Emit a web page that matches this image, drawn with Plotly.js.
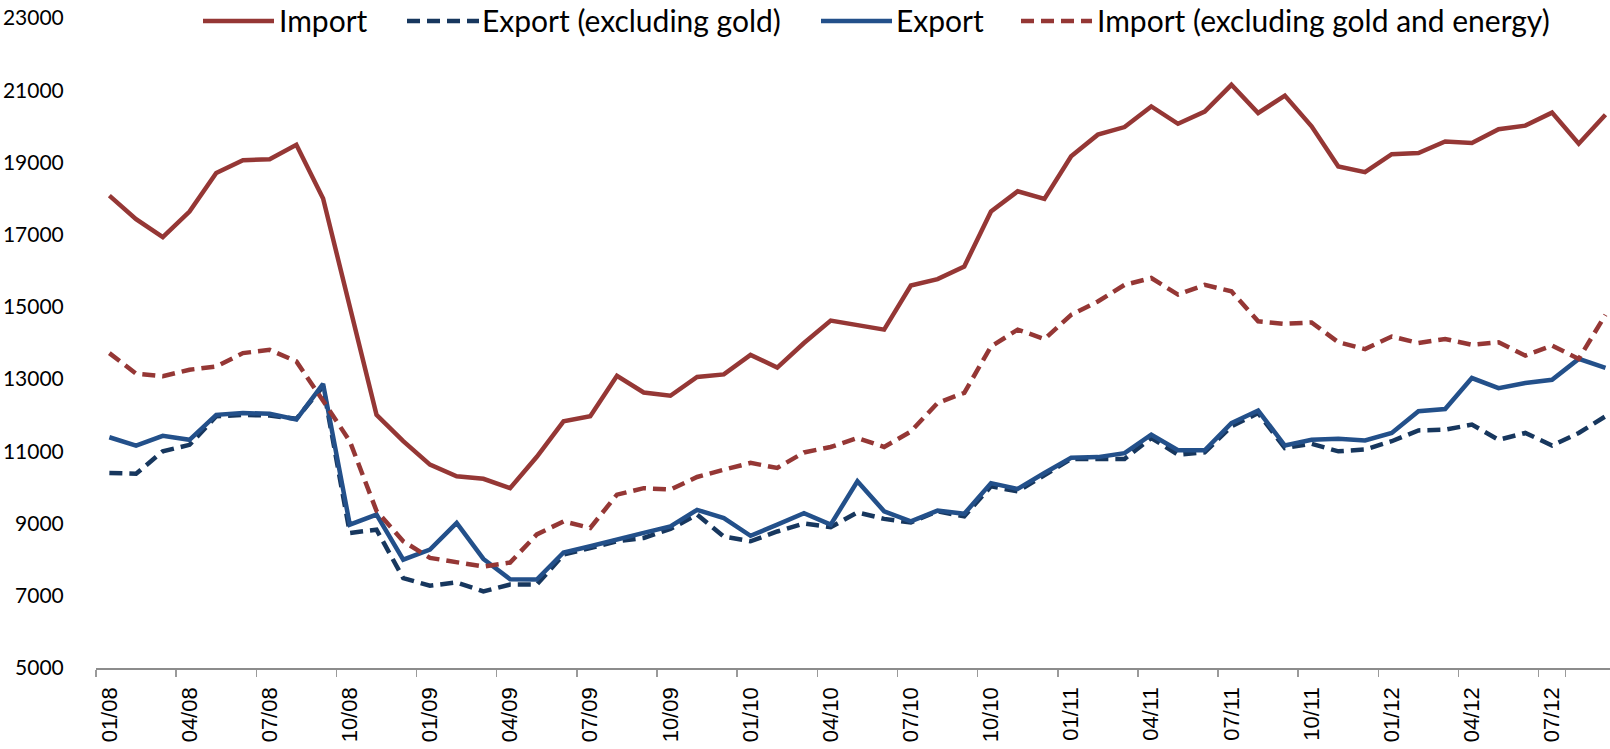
<!DOCTYPE html>
<html>
<head>
<meta charset="utf-8">
<script src="https://cdn.plot.ly/plotly-3.0.1.min.js"></script>
<style>
  html, body { margin: 0; padding: 0; background: #ffffff; }
  #chart { width: 1610px; height: 749px; }
</style>
</head>
<body>
<div id="chart"></div>
<script>
// Months (category labels)
const months = [
  "01/08","02/08","03/08","04/08","05/08","06/08","07/08","08/08","09/08","10/08","11/08","12/08",
  "01/09","02/09","03/09","04/09","05/09","06/09","07/09","08/09","09/09","10/09","11/09","12/09",
  "01/10","02/10","03/10","04/10","05/10","06/10","07/10","08/10","09/10","10/10","11/10","12/10",
  "01/11","02/11","03/11","04/11","05/11","06/11","07/11","08/11","09/11","10/11","11/11","12/11",
  "01/12","02/12","03/12","04/12","05/12","06/12","07/12","08/12","09/12"
];

// Series values
const importTotal = [18080, 17430, 16930, 17640, 18710, 19060, 19090, 19490, 18000, 15000, 12010, 11280,
  10630, 10310, 10240, 9980, 10850, 11830, 11970, 13090, 12630, 12540, 13060, 13130,
  13670, 13320, 14000, 14620, 14510, 14370, 15590, 15770, 16120, 17640, 18200, 17990,
  19170, 19770, 19980, 20550, 20070, 20410, 21150, 20370, 20850, 20000, 18890, 18730,
  19230, 19260, 19580, 19540, 19920, 20020, 20380, 19520, 20320];

const exportExGold = [10400, 10380, 11000, 11180, 11970, 12010, 11990, 11900, 12800, 8740, 8830, 7490,
  7280, 7370, 7120, 7310, 7310, 8140, 8320, 8510, 8600, 8850, 9250, 8640,
  8510, 8780, 9000, 8900, 9310, 9130, 9030, 9340, 9200, 10030, 9890, 10350,
  10790, 10790, 10790, 11370, 10910, 10970, 11690, 12060, 11090, 11210, 11000, 11050,
  11280, 11580, 11600, 11740, 11320, 11510, 11160, 11510, 11970];

const exportTotal = [11390, 11160, 11430, 11320, 12010, 12060, 12040, 11880, 12870, 8970, 9250, 8000,
  8280, 9020, 8020, 7460, 7450, 8200, 8370, 8570, 8740, 8920, 9380, 9150,
  8660, 8970, 9290, 8970, 10170, 9340, 9060, 9360, 9270, 10120, 9960, 10400,
  10820, 10840, 10950, 11460, 11030, 11030, 11780, 12130, 11160, 11320, 11350, 11300,
  11510, 12110, 12170, 13030, 12750, 12890, 12980, 13560, 13310];

const importExGoldEnergy = [13720, 13150, 13080, 13260, 13350, 13720, 13810, 13490, 12400, 11280, 9350, 8510,
  8050, 7920, 7810, 7920, 8700, 9060, 8880, 9800, 9980, 9940, 10290, 10490,
  10680, 10540, 10970, 11120, 11370, 11120, 11550, 12340, 12620, 13900, 14370, 14110,
  14780, 15150, 15610, 15800, 15340, 15610, 15430, 14600, 14530, 14570, 14020, 13830,
  14180, 14000, 14110, 13950, 14020, 13650, 13930, 13560, 14780];

const seriesNames = ["Import", "Export (excluding gold)", "Export", "Import (excluding gold and energy)"];
const yTicks = [5000, 7000, 9000, 11000, 13000, 15000, 17000, 19000, 21000, 23000];
const xTickLabels = months.filter((m, i) => i % 3 === 0);

// Styles
const RED = "#953735";
const BLUE = "#23508a";
const NAVY = "#17375e";
const DASH = "13px,7px";
const LW = 4.5;

const series = [
  {name: seriesNames[0], y: importTotal, color: RED, dash: "solid"},
  {name: seriesNames[1], y: exportExGold, color: NAVY, dash: DASH},
  {name: seriesNames[2], y: exportTotal, color: BLUE, dash: "solid"},
  {name: seriesNames[3], y: importExGoldEnergy, color: RED, dash: DASH}
];

const traces = series.map(s => ({
  type: "scatter",
  mode: "lines",
  name: s.name,
  x: months,
  y: s.y,
  line: {color: s.color, width: LW, dash: s.dash},
  showlegend: false,
  hoverinfo: "x+y+name"
}));

// Plot geometry (pixels)
const W = 1610, H = 749;
const M = {l: 96, r: 0, t: 18, b: 81};
const PW = W - M.l - M.r, PH = H - M.t - M.b;
const px = x => (x - M.l) / PW;
const py = y => (H - M.b - y) / PH;

// Custom legend (line samples + real text)
const legendItems = [
  {name: seriesNames[0], color: RED, dash: "solid", x0: 203, x1: 274, tx: 277},
  {name: seriesNames[1], color: NAVY, dash: DASH, x0: 407, x1: 479, tx: 480},
  {name: seriesNames[2], color: BLUE, dash: "solid", x0: 821, x1: 892, tx: 894},
  {name: seriesNames[3], color: RED, dash: DASH, x0: 1021, x1: 1092, tx: 1095}
];
const LEG_Y = 21;
const shapes = legendItems.map(it => ({
  type: "line", xref: "paper", yref: "paper",
  x0: px(it.x0), x1: px(it.x1), y0: py(LEG_Y), y1: py(LEG_Y),
  line: {color: it.color, width: LW, dash: it.dash}
}));
const annotations = legendItems.map(it => ({
  xref: "paper", yref: "paper",
  x: px(it.tx), y: py(LEG_Y - 1),
  xanchor: "left", yanchor: "middle",
  text: it.name, showarrow: false,
  font: {family: "Lato, 'Open Sans', sans-serif", size: 30, color: "#000000"}
}));

const layout = {
  width: W, height: H,
  margin: M,
  paper_bgcolor: "#ffffff",
  plot_bgcolor: "#ffffff",
  showlegend: false,
  xaxis: {
    type: "category",
    range: [-0.5, 56.17],
    tickmode: "array",
    tickvals: xTickLabels,
    ticktext: xTickLabels,
    tickson: "boundaries",
    ticks: "outside",
    ticklen: 7,
    tickwidth: 1.5,
    tickcolor: "#9a9a9a",
    showline: true,
    linecolor: "#8c8c8c",
    linewidth: 1.5,
    showgrid: false,
    zeroline: false,
    tickangle: -90,
    ticklabelstandoff: 9,
    tickfont: {family: "'Liberation Sans', Arial, sans-serif", size: 22, color: "#000000"}
  },
  yaxis: {
    range: [5000, 23000],
    tickmode: "array",
    tickvals: yTicks,
    ticktext: yTicks.map(String),
    ticks: "outside",
    ticklen: 27,
    tickcolor: "rgba(0,0,0,0)",
    showline: false,
    showgrid: false,
    zeroline: false,
    tickfont: {family: "Lato, 'Open Sans', sans-serif", size: 21, color: "#000000"}
  },
  shapes: shapes,
  annotations: annotations
};

Plotly.newPlot("chart", traces, layout, {displayModeBar: false, staticPlot: true});
</script>
</body>
</html>
